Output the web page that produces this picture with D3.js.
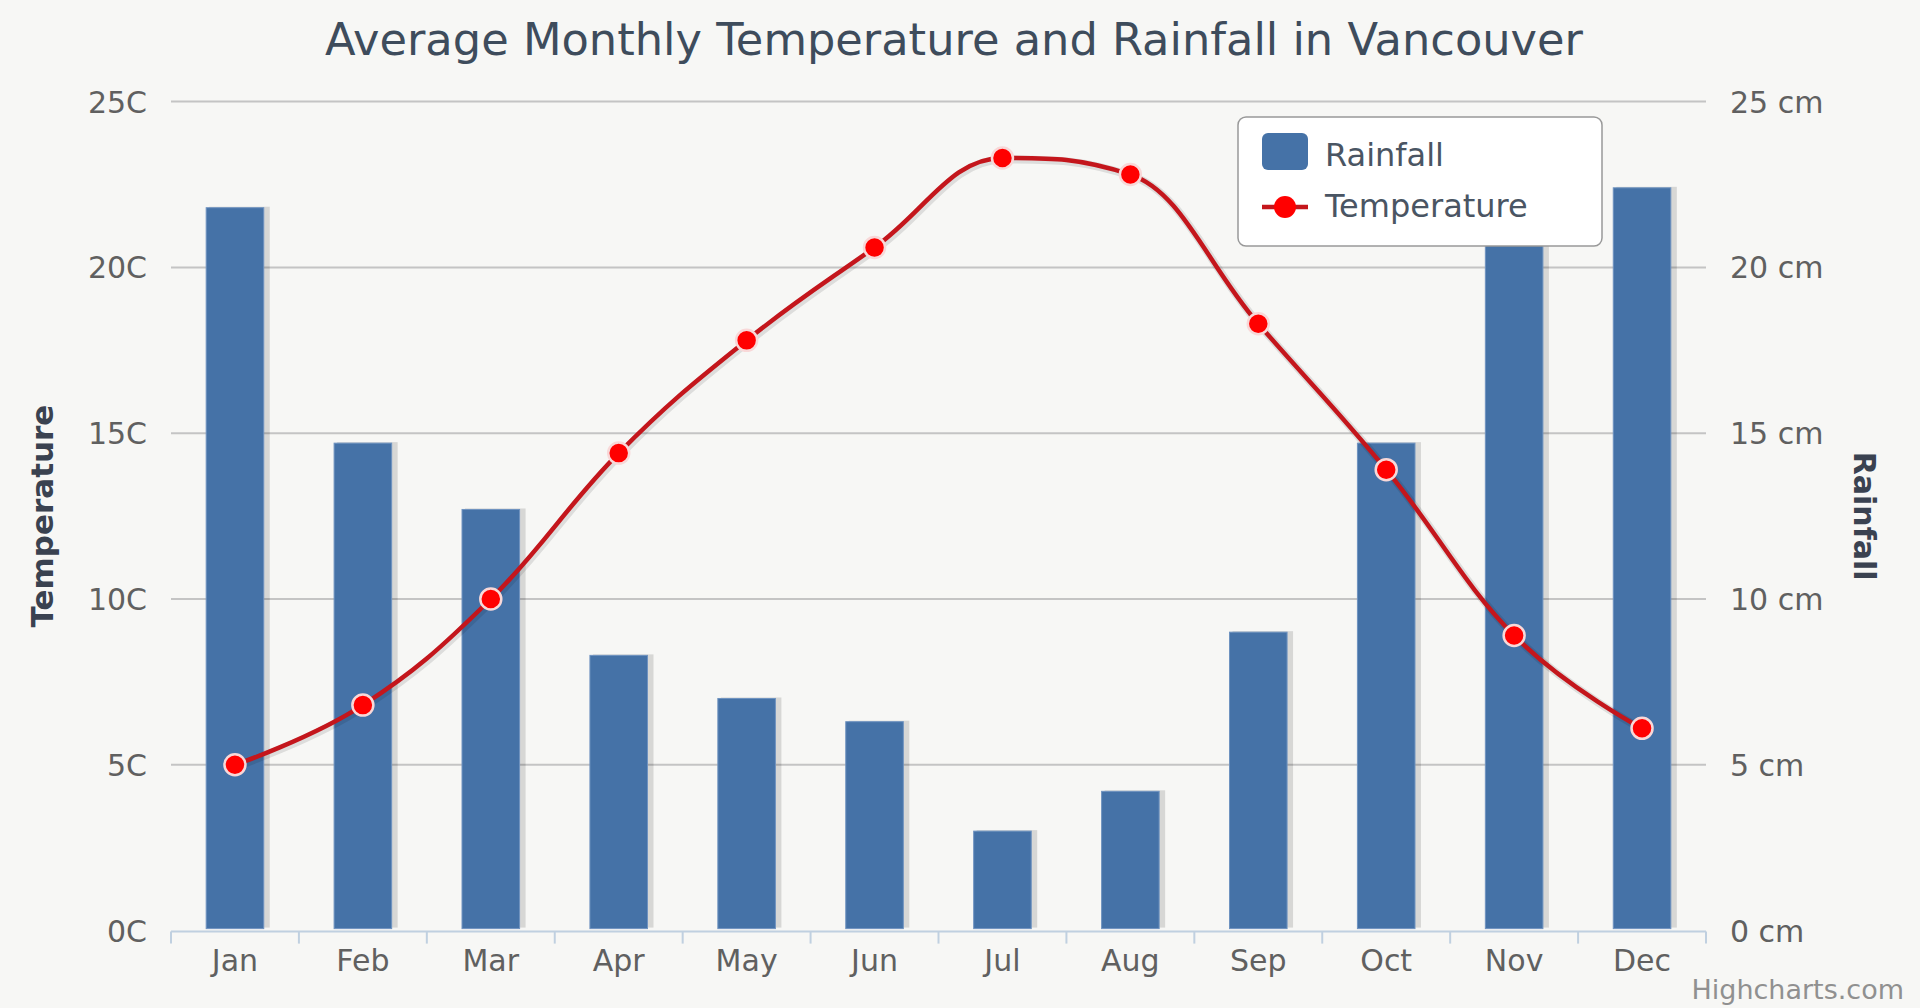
<!DOCTYPE html>
<html><head><meta charset="utf-8">
<script src="https://cdn.jsdelivr.net/npm/d3@7"></script>
<style>html,body{margin:0;padding:0;background:#f7f7f5;overflow:hidden}</style>
</head><body><svg id="c" width="1920" height="1008"></svg>
<script>
const months = ["Jan","Feb","Mar","Apr","May","Jun","Jul","Aug","Sep","Oct","Nov","Dec"];
const rainfall = [21.8,14.7,12.7,8.3,7.0,6.3,3.0,4.2,9.0,14.7,21.5,22.4];
const temperature = [5.0,6.8,10.0,14.4,17.8,20.6,23.3,22.8,18.3,13.9,8.9,6.1];
const tempTicks = [0,5,10,15,20,25];
const rainTicks = [0,5,10,15,20,25];
const titleText = "Average Monthly Temperature and Rainfall in Vancouver";
const seriesNames = ["Rainfall","Temperature"];

const W=1920,H=1008;
const L=171,R=1706,T=101.6,B=930.6;
const FONT="'DejaVu Sans', sans-serif";
const svg=d3.select("#c");
svg.append("rect").attr("width",W).attr("height",H).attr("fill","#f7f7f5");

const x=d3.scaleBand().domain(months).range([L,R]);
const yT=d3.scaleLinear().domain([0,25]).range([B,T]);
const yR=d3.scaleLinear().domain([0,25]).range([B,T]);
const cx=m=>x(m)+x.bandwidth()/2;
const bw=x.bandwidth()*0.45;

// gridlines
svg.append("g").selectAll("line").data(tempTicks.filter(d=>d>0)).join("line")
  .attr("x1",L).attr("x2",R).attr("y1",d=>yT(d)).attr("y2",d=>yT(d))
  .attr("stroke","#c4c4c4").attr("stroke-width",2);

// bars
const bars=svg.append("g");
bars.selectAll("rect.sh").data(rainfall).join("rect").attr("class","sh")
  .attr("x",(d,i)=>cx(months[i])-bw/2+3).attr("y",d=>yR(d)-1)
  .attr("width",bw+3).attr("height",d=>yR(0)-yR(d)-2)
  .attr("fill","#000").attr("opacity",0.13);
bars.selectAll("rect.b").data(rainfall).join("rect").attr("class","b")
  .attr("x",(d,i)=>cx(months[i])-bw/2).attr("y",d=>yR(d))
  .attr("width",bw).attr("height",d=>yR(0)-yR(d)-2)
  .attr("fill","#4572a7").attr("stroke","#6f93c0").attr("stroke-width",1);

// x axis line & ticks
svg.append("line").attr("x1",L).attr("x2",R).attr("y1",B+1).attr("y2",B+1)
  .attr("stroke","#c0d0e0").attr("stroke-width",2);
svg.append("g").selectAll("line").data(d3.range(months.length+1)).join("line")
  .attr("x1",i=>L+i*x.bandwidth()).attr("x2",i=>L+i*x.bandwidth())
  .attr("y1",B+1).attr("y2",B+13).attr("stroke","#c0d0e0").attr("stroke-width",2);

// spline
function hcSpline(pts){
  const sm=1.5,den=2.5;let d='';
  pts.forEach((p,i)=>{
    const last=pts[i-1],next=pts[i+1];let lcx,lcy,rcx,rcy;
    if(last&&next){
      lcx=(sm*p.x+last.x)/den;lcy=(sm*p.y+last.y)/den;
      rcx=(sm*p.x+next.x)/den;rcy=(sm*p.y+next.y)/den;
      const corr=((rcy-lcy)*(rcx-p.x))/(rcx-lcx)+p.y-rcy;
      lcy+=corr;rcy+=corr;
      if(lcy>last.y&&lcy>p.y){lcy=Math.max(last.y,p.y);rcy=2*p.y-lcy;}
      else if(lcy<last.y&&lcy<p.y){lcy=Math.min(last.y,p.y);rcy=2*p.y-lcy;}
      if(rcy>next.y&&rcy>p.y){rcy=Math.max(next.y,p.y);lcy=2*p.y-rcy;}
      else if(rcy<next.y&&rcy<p.y){rcy=Math.min(next.y,p.y);lcy=2*p.y-rcy;}
      p.rcx=rcx;p.rcy=rcy;
    }
    if(!i) d+=`M${p.x},${p.y}`;
    else d+=`C${last.rcx??last.x},${last.rcy??last.y},${lcx??p.x},${lcy??p.y},${p.x},${p.y}`;
  });
  return d;
}
const pts=temperature.map((v,i)=>({x:cx(months[i]),y:yT(v)}));
const path=hcSpline(pts);
svg.append("path").attr("d",path).attr("transform","translate(1.5,1.5)")
  .attr("fill","none").attr("stroke","#000").attr("stroke-opacity",0.1).attr("stroke-width",8);
svg.append("path").attr("d",path).attr("fill","none").attr("stroke","#c4161c").attr("stroke-width",4.5);
svg.append("g").selectAll("circle").data(temperature).join("circle")
  .attr("cx",(d,i)=>cx(months[i])).attr("cy",d=>yT(d)).attr("r",10.5)
  .attr("fill","#ff0000").attr("stroke","#f8d8d8").attr("stroke-width",2.5);

// axis labels
const lab=svg.append("g").attr("font-family",FONT).attr("font-size",30).attr("fill","#606060");
lab.selectAll("text.l").data(tempTicks).join("text").attr("class","l")
  .attr("x",147).attr("y",d=>yT(d)+11).attr("text-anchor","end").text(d=>d+"C");
lab.selectAll("text.r").data(rainTicks).join("text").attr("class","r")
  .attr("x",1730).attr("y",d=>yR(d)+11).attr("text-anchor","start").text(d=>d+" cm");
lab.selectAll("text.x").data(months).join("text").attr("class","x")
  .attr("x",d=>cx(d)).attr("y",971).attr("text-anchor","middle").text(d=>d);

// axis titles
svg.append("text").attr("transform",`translate(53,${(T+B)/2}) rotate(-90)`)
  .attr("text-anchor","middle").attr("font-family",FONT).attr("font-weight","bold")
  .attr("font-size",31).attr("fill","#3a4250").text("Temperature");
svg.append("text").attr("transform",`translate(1854,${(T+B)/2}) rotate(90)`)
  .attr("text-anchor","middle").attr("font-family",FONT).attr("font-weight","bold")
  .attr("font-size",30).attr("fill","#3a4250").text("Rainfall");

// title
const title=svg.append("text").attr("x",954).attr("y",55).attr("text-anchor","middle")
  .attr("font-family",FONT).attr("font-size",44).attr("fill","#3e4c5c").text(titleText);
const tw=title.node().getComputedTextLength();
title.attr("font-size",44*1258/tw);

// legend
const lg=svg.append("g");
lg.append("rect").attr("x",1238).attr("y",117).attr("width",364).attr("height",129).attr("rx",8)
  .attr("fill","#ffffff").attr("stroke","#999").attr("stroke-width",1.5);
lg.append("rect").attr("x",1262).attr("y",133).attr("width",46).attr("height",37).attr("rx",6)
  .attr("fill","#4572a7");
lg.append("line").attr("x1",1262).attr("x2",1308).attr("y1",207).attr("y2",207)
  .attr("stroke","#c4161c").attr("stroke-width",4.5);
lg.append("circle").attr("cx",1285).attr("cy",207).attr("r",11).attr("fill","#ff0000");
lg.selectAll("text").data(seriesNames).join("text")
  .attr("x",1325).attr("y",(d,i)=>166+i*51).attr("font-family",FONT).attr("font-size",32)
  .attr("fill","#4a5563").text(d=>d);

// credits
svg.append("text").attr("x",1904).attr("y",999).attr("text-anchor","end")
  .attr("font-family",FONT).attr("font-size",27).attr("fill","#909090").text("Highcharts.com");
</script></body></html>
